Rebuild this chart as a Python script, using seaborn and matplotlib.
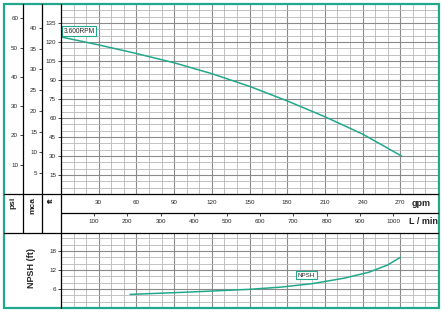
import numpy as np
import pandas as pd
import matplotlib
matplotlib.use("Agg")
import matplotlib.pyplot as plt
import seaborn as sns
from matplotlib.lines import Line2D
from matplotlib.patches import Rectangle

# ---------------- data ----------------
flow_gpm = [0, 30, 60, 90, 120, 150, 180, 210, 240, 271]
head_ft = [124, 117.7, 110.9, 103.6, 95.0, 85.0, 73.5, 61.0, 47.3, 30]
npsh_gpm = [55, 100, 150, 175, 200, 225, 245, 260, 270]
npsh_ft = [4.3, 5.0, 5.9, 6.6, 7.7, 9.4, 11.3, 13.6, 16.0]

gpm_ticks = [30, 60, 90, 120, 150, 180, 210, 240, 270]
lmin_ticks = [100, 200, 300, 400, 500, 600, 700, 800, 900, 1000]
ft_ticks = [15, 30, 45, 60, 75, 90, 105, 120, 135]
mca_ticks = [5, 10, 15, 20, 25, 30, 35, 40]
psi_ticks = [10, 20, 30, 40, 50, 60]
npsh_ticks = [6, 12, 18]
curve_label = "3.600RPM"
npsh_label = "NPSH"

TEAL = "#22a88c"
DARK = "#8a8a8a"
LIGHT = "#b8b8b8"

sns.set_style("white")
plt.rcParams["font.family"] = ["Liberation Sans", "DejaVu Sans"]

W, H = 446, 314
fig = plt.figure(figsize=(W / 100, H / 100), dpi=100)


def rect(l, t, r, b):
    return [l / W, 1 - b / H, (r - l) / W, (b - t) / H]


def fx(px):
    return px / W


def fy(py):
    return 1 - py / H


head_df = pd.DataFrame({"gpm": flow_gpm, "ft": head_ft})
npsh_df = pd.DataFrame({"gpm": npsh_gpm, "ft": npsh_ft})

# ---------------- main (head) axes ----------------
ax = fig.add_axes(rect(61, 4, 438, 194))
ax.set_xlim(0, 300)
ax.set_ylim(0, 150)
sns.lineplot(data=head_df, x="gpm", y="ft", ax=ax, color=TEAL, lw=1.1)
ax.set_xlabel("")
ax.set_ylabel("")
ax.set_xticks(gpm_ticks)
ax.set_xticks(np.arange(0, 301, 10), minor=True)
ax.set_yticks(ft_ticks)
ax.set_yticks(np.arange(0, 151, 5), minor=True)
ax.grid(which="major", color=DARK, lw=0.8)
ax.grid(which="minor", color=LIGHT, lw=0.6)
ax.tick_params(axis="x", which="major", length=0, pad=4.6, labelsize=4.5)
ax.tick_params(axis="y", which="major", direction="out", length=2.5, width=0.6,
               pad=1, labelsize=4.5, left=True)
ax.tick_params(which="minor", length=0)
for s in ax.spines.values():
    s.set_visible(False)
ax.set_axisbelow(True)

ax.text(14.3, 128.6, curve_label, fontsize=4.8, ha="center", va="center",
        bbox=dict(boxstyle="square,pad=0.2", fc="white", ec=TEAL, lw=0.8))

# secondary y axes: mca and psi
mca = ax.secondary_yaxis((42 - 61) / 377, functions=(lambda f: f / 3.281, lambda m: m * 3.281))
mca.set_yticks(mca_ticks)
mca.tick_params(direction="out", length=2.5, width=0.6, pad=1, labelsize=4.5)
psi = ax.secondary_yaxis((23 - 61) / 377, functions=(lambda f: f / 2.31, lambda p: p * 2.31))
psi.set_yticks(psi_ticks)
psi.tick_params(direction="out", length=2.5, width=0.6, pad=1, labelsize=4.5)
for sec in (mca, psi):
    for s in sec.spines.values():
        s.set_visible(False)

# secondary x axis: L/min
lmin = ax.secondary_xaxis((194 - 213) / 190, functions=(lambda g: g * 3.78541, lambda l: l / 3.78541))
lmin.set_xticks(lmin_ticks)
lmin.tick_params(direction="out", length=2.5, width=0.6, pad=1.8, labelsize=4.5)
for s in lmin.spines.values():
    s.set_visible(False)

# ---------------- NPSH axes ----------------
ax2 = fig.add_axes(rect(61, 233, 438, 308))
ax2.set_xlim(0, 300)
ax2.set_ylim(0, 23.7)
sns.lineplot(data=npsh_df, x="gpm", y="ft", ax=ax2, color=TEAL, lw=1.1)
ax2.set_xlabel("")
ax2.set_ylabel("")
ax2.set_xticks(gpm_ticks)
ax2.set_xticks(np.arange(0, 301, 10), minor=True)
ax2.set_yticks(npsh_ticks)
ax2.set_yticks(np.arange(0, 24, 2), minor=True)
ax2.grid(which="major", color=DARK, lw=0.8)
ax2.grid(which="minor", color=LIGHT, lw=0.6)
ax2.tick_params(axis="x", which="major", length=0, labelbottom=False)
ax2.tick_params(axis="y", which="major", direction="out", length=2.5, width=0.6,
                pad=1, labelsize=4.5, left=True)
ax2.tick_params(which="minor", length=0)
for s in ax2.spines.values():
    s.set_visible(False)
ax2.set_axisbelow(True)
ax2.text(195.4, 10.3, npsh_label, fontsize=4.5, ha="center", va="center",
         bbox=dict(boxstyle="square,pad=0.25", fc="white", ec=TEAL, lw=0.8))

# ---------------- frame lines ----------------
def hline(y, x0, x1, lw=0.9, color="black"):
    fig.add_artist(Line2D([fx(x0), fx(x1)], [fy(y), fy(y)], color=color, lw=lw,
                          transform=fig.transFigure))


def vline(x, y0, y1, lw=0.9, color="black"):
    fig.add_artist(Line2D([fx(x), fx(x)], [fy(y0), fy(y1)], color=color, lw=lw,
                          transform=fig.transFigure))


vline(23, 4, 233)
vline(42, 4, 233)
vline(61, 4, 308)
hline(194, 4, 438)
hline(213, 61, 438)
hline(233, 4, 438)

fig.add_artist(Rectangle((fx(4), fy(308)), (438.5 - 4) / W, (308 - 4) / H,
                         fill=False, ec=TEAL, lw=1.6, transform=fig.transFigure))

# ---------------- labels ----------------
for txt, x in (("psi", 13), ("mca", 32.5), ("ft", 51.5)):
    fig.text(fx(x), fy(197), txt, rotation=90, ha="center", va="top",
             fontsize=6, fontweight="bold")
fig.text(fx(421), fy(203), "gpm", ha="center", va="center", fontsize=6.5, fontweight="bold")
fig.text(fx(423), fy(222), "L / min", ha="center", va="center", fontsize=6.5, fontweight="bold")
fig.text(fx(32), fy(268), "NPSH (ft)", rotation=90, ha="center", va="center",
         fontsize=6.5, fontweight="bold")

fig.savefig("out.png", dpi=100)
